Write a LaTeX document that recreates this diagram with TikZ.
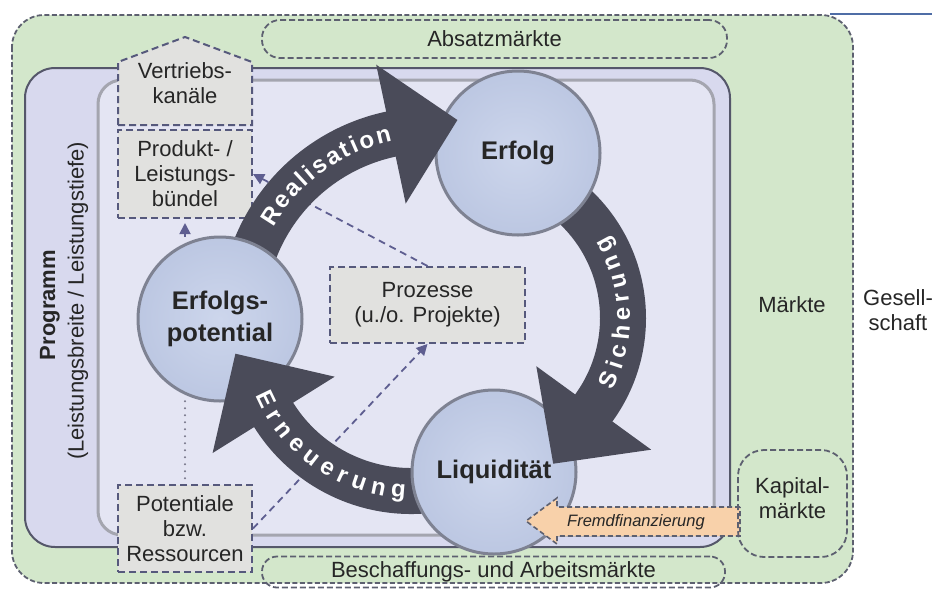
\documentclass[tikz,border=0pt]{standalone}
\usepackage{fontspec}
\setmainfont{Liberation Sans}
\usetikzlibrary{decorations.text,arrows.meta,calc}
\definecolor{greenbg}{HTML}{D3E7CB}
\definecolor{outline}{HTML}{5D6070}
\definecolor{progfill}{HTML}{D8D9EE}
\definecolor{progline}{HTML}{55576A}
\definecolor{innerfill}{HTML}{E4E5F3}
\definecolor{innerline}{HTML}{A4A5AF}
\definecolor{boxfill}{HTML}{E1E1DF}
\definecolor{boxline}{HTML}{56597C}
\definecolor{arrowdark}{HTML}{4A4B59}
\definecolor{circin}{HTML}{CDD6EC}
\definecolor{circout}{HTML}{BCC7E2}
\definecolor{circline}{HTML}{7E8292}
\definecolor{connc}{HTML}{5E5E90}
\definecolor{dotc}{HTML}{77778A}
\definecolor{fremdfill}{HTML}{F8D1AA}
\definecolor{textc}{HTML}{262626}
\definecolor{topblue}{HTML}{4F6DA6}
\newcommand\arrfont{\bfseries\fontsize{24}{24}\selectfont}
\begin{document}
\begin{tikzpicture}[x=1pt,y=-1pt,
  txt/.style={font=\fontsize{22}{25}\selectfont, text=textc, align=center, inner sep=0pt},
  dbox/.style={txt, draw=boxline, fill=boxfill, line width=2pt, dash pattern=on 7pt off 4pt},
  pill/.style={txt, draw=outline, line width=1.8pt, dash pattern=on 6pt off 3pt},
  circ/.style={circle, draw=circline, line width=3pt, inner color=circin, outer color=circout, minimum size=164pt, inner sep=0pt},
  big/.style={font=\bfseries\fontsize{25.5}{32}\selectfont, text=textc, align=center, inner sep=0pt},
  band/.style={draw=arrowdark, line width=46pt},
  conn/.style={draw=connc, line width=1.8pt, dash pattern=on 7pt off 5pt, -{Triangle[length=11pt,width=11pt]}},
  dotline/.style={draw=dotc, line width=2.2pt, line cap=round, dash pattern=on 0pt off 7pt},
]
\useasboundingbox (0,0) rectangle (932,590);
\draw[topblue, line width=2pt] (830,14) -- (932,14);
% outer green area
\filldraw[fill=greenbg, draw=outline, line width=1.8pt, dash pattern=on 5pt off 2.5pt, rounded corners=32pt] (12,15) rectangle (853,583);
\node[pill, minimum width=465pt, minimum height=38pt, rounded corners=18pt] (absatz) at (494.5,39) {Absatzmärkte};
\node[pill, minimum width=463pt, minimum height=31pt, rounded corners=15pt] (besch) at (493.5,572) {Beschaffungs- und Arbeitsmärkte};
% programme boxes
\filldraw[fill=progfill, draw=progline, line width=2pt, rounded corners=30pt] (25,68) rectangle (730,547);
\filldraw[fill=innerfill, draw=innerline, line width=3pt, rounded corners=24pt] (98,80) rectangle (714,535);
\node[txt, font=\bfseries\fontsize{22}{25}\selectfont, rotate=90] (prog) at (50,305) {Programm};
\node[txt, rotate=90] (progsub) at (78,301) {(Leistungsbreite / Leistungstiefe)};
% dashed boxes
\filldraw[fill=boxfill, draw=boxline, line width=2pt, dash pattern=on 7pt off 4pt] (118,125) -- (118,62) -- (185,37) -- (252,62) -- (252,125) -- cycle;
\node[txt] (vert) at (185,83) {Vertriebs-\\kanäle};
\node[dbox, minimum width=134pt, minimum height=88pt] (prod) at (185,174) {Produkt- /\\Leistungs-\\bündel};
\node[dbox, minimum width=195pt, minimum height=76pt] (proz) at (427.5,305) {Prozesse\\(u./o. Projekte)};
\node[dbox, minimum width=134pt, minimum height=87pt] (pot) at (185,528.5) {Potentiale\\bzw.\\Ressourcen};
% circle anchor
\path (220,319) node[circle, minimum size=164pt, inner sep=0pt] (ep) {};
% connectors
\draw[conn] (proz.north) -- (prod.east);
\draw[conn] (pot.east) -- (proz.south);
\draw[conn, shorten >=4pt] (ep.north -| prod.south) -- (prod.south);
\draw[dotline] (ep.south -| pot.north) -- (pot.north);
% big arrow bodies
\draw[band] ($(430,318)+(195:188)$) arc[start angle=195, end angle=259, radius=188];
\draw[band] ($(470,318)+(-50:153)$) arc[start angle=-50, end angle=37, radius=153];
\draw[band] ($(411,329)+(75:162)$) arc[start angle=75, end angle=149, radius=162];
% circles
\node[circ] (epc) at (ep) {};
\node[circ] (er) at (518,153) {};
\node[circ] (li) at (494,472) {};
% arrow heads
\fill[arrowdark] (376.2,64.7) -- (457.4,120) -- (405.7,203.6) -- cycle;
\fill[arrowdark] (536.3,366.2) -- (553.2,463.7) -- (651.2,449.7) -- cycle;
\fill[arrowdark] (334.7,376.7) -- (235.4,353.7) -- (212.6,453) -- cycle;
% arrow texts
\path[decorate, decoration={text along path, text={|\arrfont|Realisation}, text color=white, text align={fit to path}}]
  ($(430,318)+(210:181)$) arc[start angle=210, end angle=258, radius=181];
\path[decorate, decoration={text along path, text={|\arrfont|Sicherung}, text color=white, text align={fit to path}}]
  ($(470,318)+(27:160)$) arc[start angle=27, end angle=-31, radius=160];
\path[decorate, decoration={text along path, text={|\arrfont|Erneuerung}, text color=white, text align={fit to path}}]
  ($(411,329)+(157:169)$) arc[start angle=157, end angle=92, radius=169];
% circle labels
\node[big] (eplbl) at (epc) {Erfolgs-\\potential};
\node[big] (erlbl) at (er) {Erfolg};
\node[big] (lilbl) at (li) {Liquidität};
% markets on the right
\filldraw[fill=fremdfill, draw=outline, line width=1.6pt, dash pattern=on 5pt off 3pt] (740,507) -- (557,507) -- (557,498) -- (526,521) -- (557,544) -- (557,536) -- (740,536) -- cycle;
\node[font=\itshape\fontsize{16.5}{18}\selectfont, text=textc, inner sep=0pt] (fremd) at (636,522) {Fremdfinanzierung};
\node[pill, minimum width=109pt, minimum height=107pt, rounded corners=26pt] (kap) at (792.5,503.5) {};
\node[txt] (kaptext) at (792.5,498) {Kapital-\\märkte};
\node[txt] (maerkte) at (792,305) {Märkte};
\node[txt] (ges) at (898,310) {Gesell-\\schaft};
\end{tikzpicture}
\end{document}
